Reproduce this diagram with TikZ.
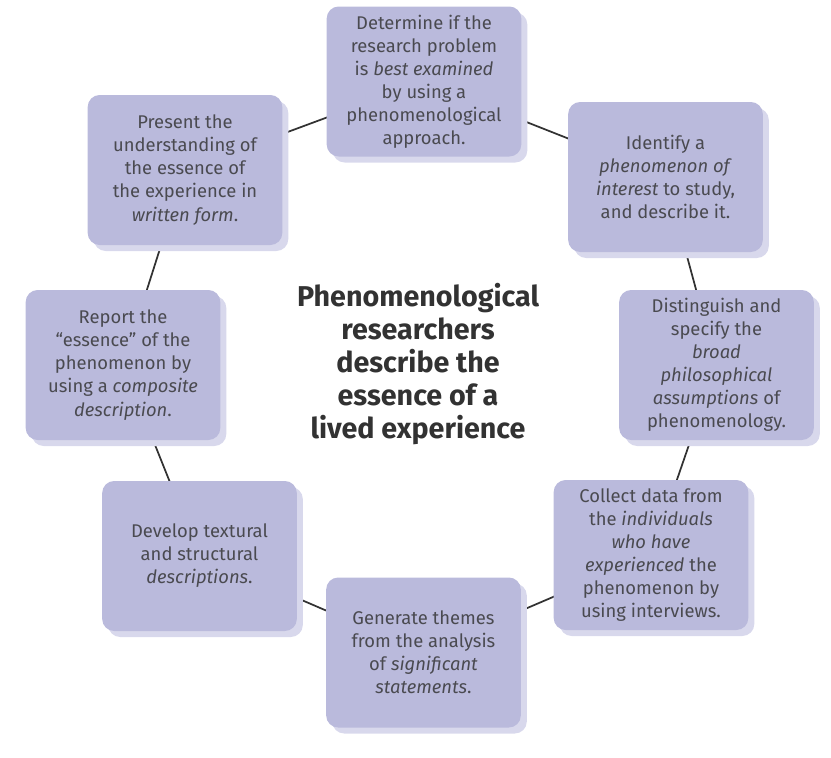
\documentclass[tikz,border=0pt]{standalone}
\usepackage{fontspec}
\setmainfont{Fira Sans}
\usetikzlibrary{shadows,backgrounds}
\definecolor{boxfill}{RGB}{186,186,220}
\definecolor{boxshade}{RGB}{216,216,236}
\definecolor{boxtext}{RGB}{74,74,80}
\definecolor{linkgray}{RGB}{50,50,50}
\tikzset{
    stepbox/.style={rectangle,rounded corners=9pt,fill=boxfill,
        minimum width=146pt,minimum height=112.5pt,align=center,
        text=boxtext,font=\fontsize{13.8}{17.3}\selectfont,inner sep=2pt,
        drop shadow={shadow xshift=4.5pt,shadow yshift=-4.5pt,fill=boxshade,opacity=1}},
    link/.style={draw=linkgray,line width=1.3pt}
}
\begin{document}
\begin{tikzpicture}[x=0.75pt,y=-0.75pt]
        \useasboundingbox (0,0) rectangle (831,757);
        \node[stepbox] (N1) at (424,81.5) {Determine if the\\research problem\\is \textit{best examined}\\by using a\\phenomenological\\approach.};
        \node[stepbox] (N2) at (665.5,177) {Identify a\\\textit{phenomenon of}\\\textit{interest} to study,\\and describe it.};
        \node[stepbox] (N3) at (716.5,365) {Distinguish and\\specify the\\\textit{broad}\\\textit{philosophical}\\\textit{assumptions} of\\phenomenology.};
        \node[stepbox] (N4) at (651,555) {Collect data from\\the \textit{individuals}\\\textit{who have}\\\textit{experienced} the\\phenomenon by\\using interviews.};
        \node[stepbox] (N5) at (423.5,652.5) {Generate themes\\from the analysis\\of \textit{significant}\\\textit{statements}.};
        \node[stepbox] (N6) at (199.5,556) {Develop textural\\and structural\\\textit{descriptions}.};
        \node[stepbox] (N7) at (123,365) {Report the\\“essence” of the\\phenomenon by\\using a \textit{composite}\\\textit{description}.};
        \node[stepbox] (N8) at (185,170) {Present the\\understanding of\\the essence of\\the experience in\\\textit{written form}.};
        \node[align=center,text=linkgray,font=\fontsize{21.5}{24.8}\selectfont\bfseries] (N0) at (418,364)
            {Phenomenological\\researchers\\describe the\\essence of a\\lived experience};
        % ring of connectors behind the boxes
        \begin{scope}[on background layer]
            \foreach \a/\b in {N1/N2,N2/N3,N3/N4,N4/N5,N5/N6,N6/N7,N7/N8,N8/N1}
                \draw[link] (\a.center) -- (\b.center);
        \end{scope}
    \end{tikzpicture}
\end{document}
